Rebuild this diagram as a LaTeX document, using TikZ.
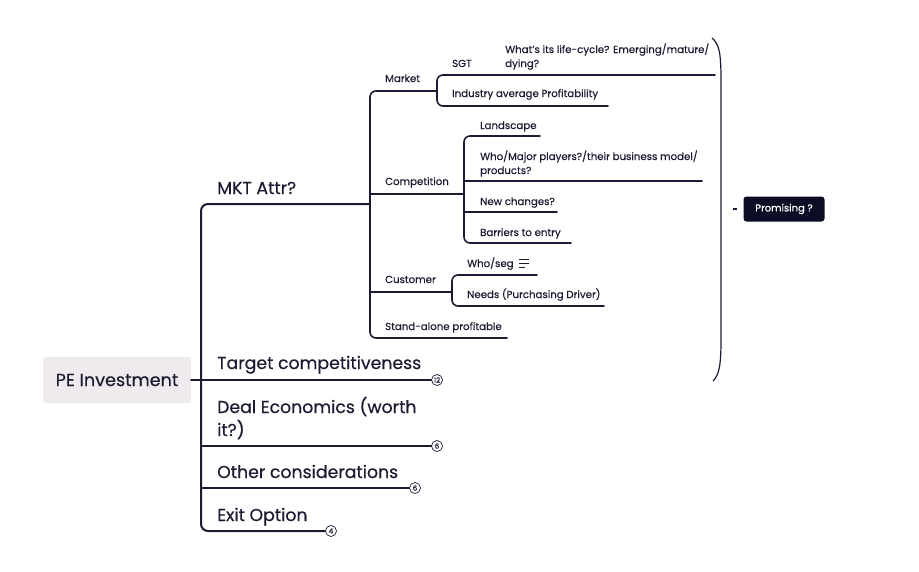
\documentclass[tikz,border=0pt]{standalone}
\usepackage{fontspec}
\setmainfont{Poppins}[FakeBold=0.4]
\definecolor{ink}{HTML}{1C1B33}
\definecolor{rootfill}{HTML}{EEEAEE}
\definecolor{notefill}{HTML}{0C0C24}
\begin{document}
\begin{tikzpicture}[x=1pt, y=-1pt,
  root/.style={fill=rootfill, rounded corners=3pt, minimum width=148pt, minimum height=46pt,
    font=\fontsize{17.6}{20}\selectfont, text=ink},
  main/.style={anchor=base west, inner sep=0pt, align=left, font=\fontsize{17.3}{23}\selectfont, text=ink},
  sub/.style={anchor=base west, inner sep=0pt, align=left, font=\fontsize{10.2}{14}\selectfont, text=ink},
  badge/.style={draw=ink, circle, line width=0.7pt, inner sep=0pt, minimum size=11pt,
    font=\fontsize{7}{7}\selectfont, text=ink, fill=white},
  summary/.style={fill=notefill, rounded corners=3pt, text=white, minimum width=81pt,
    minimum height=25pt, font=\fontsize{10}{11}\selectfont},
  trunk/.style={draw=ink, line width=2pt, line cap=round},
  branch/.style={draw=ink, line width=1.6pt, line cap=round},
]
\useasboundingbox (0,0) rectangle (919,571);

% root and first level
\node[root] (root) at (117,380) {PE Investment};
\node[main] (mkt) at (217,194) {MKT Attr?};
\node[main] (tgt) at (217,369) {Target competitiveness};
\node[main] (deal) at (217,436) {Deal Economics (worth\\it?)};
\node[main] (oth) at (217,478) {Other considerations};
\node[main] (exit) at (217,521) {Exit Option};

\coordinate (mkt-l) at (201,204);
\coordinate (mkt-r) at (370,204);
\coordinate (deal-l) at (201,446);
\coordinate (oth-l) at (201,488);
\coordinate (exit-l) at (201,531);
\node[badge] (b12) at (437,380) {12};
\node[badge] (bdeal) at (437,446) {6};
\node[badge] (both) at (415,488) {6};
\node[badge] (bexit) at (331,531) {4};

\draw[trunk, rounded corners=7pt] (mkt-r) -- (mkt-l) -- (exit-l) -- (bexit.west);
\draw[trunk] (root.east) -- (b12.west);
\draw[trunk] (deal-l) -- (bdeal.west);
\draw[trunk] (oth-l) -- (both.west);

% second level under MKT Attr?
\node[sub] (mar) at (385,82) {Market};
\node[sub] (comp) at (385,185) {Competition};
\node[sub] (cust) at (385,283) {Customer};
\node[sub] (sap) at (385,330) {Stand-alone profitable};

\coordinate (mar-l) at (370,91);
\coordinate (mar-r) at (437,91);
\coordinate (comp-l) at (370,194);
\coordinate (comp-r) at (464,194);
\coordinate (cust-l) at (370,292);
\coordinate (cust-r) at (452,292);
\coordinate (sap-l) at (370,338);
\coordinate (sap-r) at (507,338);

\draw[branch, rounded corners=6pt] (mar-r) -- (mar-l) -- (sap-l) -- (sap-r);
\draw[branch] (comp-l) -- (comp-r);
\draw[branch] (cust-l) -- (cust-r);

% market
\node[sub] (sgt) at (452,67) {SGT};
\node[sub] (lcy) at (505,67) {What's its life-cycle? Emerging/mature/\\dying?};
\node[sub] (iap) at (452,97) {Industry average Profitability};
\coordinate (sgt-l) at (437,75);
\coordinate (lcy-r) at (715,75);
\coordinate (iap-l) at (437,106);
\coordinate (iap-r) at (608,106);
\draw[branch, rounded corners=6pt] (lcy-r) -- (sgt-l) -- (iap-l) -- (iap-r);

% competition
\node[sub] (land) at (480,129) {Landscape};
\node[sub] (who) at (480,174) {Who/Major players?/their business model/\\products?};
\node[sub] (newc) at (480,205) {New changes?};
\node[sub] (barr) at (480,236) {Barriers to entry};
\coordinate (land-l) at (464,136);
\coordinate (land-r) at (540,136);
\coordinate (who-l) at (464,181);
\coordinate (who-r) at (702,181);
\coordinate (newc-l) at (464,212);
\coordinate (newc-r) at (557,212);
\coordinate (barr-l) at (464,243);
\coordinate (barr-r) at (571,243);
\draw[branch, rounded corners=6pt] (land-r) -- (land-l) -- (barr-l) -- (barr-r);
\draw[branch] (who-l) -- (who-r);
\draw[branch] (newc-l) -- (newc-r);

% customer
\node[sub] (seg) at (467,267) {Who/seg};
\node[sub] (need) at (467,298) {Needs (Purchasing Driver)};
\coordinate (seg-l) at (452,275);
\coordinate (seg-r) at (537,275);
\coordinate (need-l) at (452,306);
\coordinate (need-r) at (604,306);
\draw[branch, rounded corners=6pt] (seg-r) -- (seg-l) -- (need-l) -- (need-r);
% note icon
\draw[ink, line width=0.8pt] (519,259) -- (529,259) (519,263) -- (529,263) (519,267) -- (525,267);

% summary brace
\coordinate (brace-top) at (712,38);
\coordinate (brace-bot) at (713,381);
\coordinate (brace-tip) at (733,209);
\node[summary] (prom) at (784,209) {Promising ?};
\draw[ink, line width=1.2pt] (brace-top) .. controls (719,44) and (721,52) .. (721,80)
  -- (721,340) .. controls (721,366) and (719,375) .. (brace-bot);
\draw[ink, line width=1.2pt] (brace-tip) -- ++(4,0);
\end{tikzpicture}
\end{document}
